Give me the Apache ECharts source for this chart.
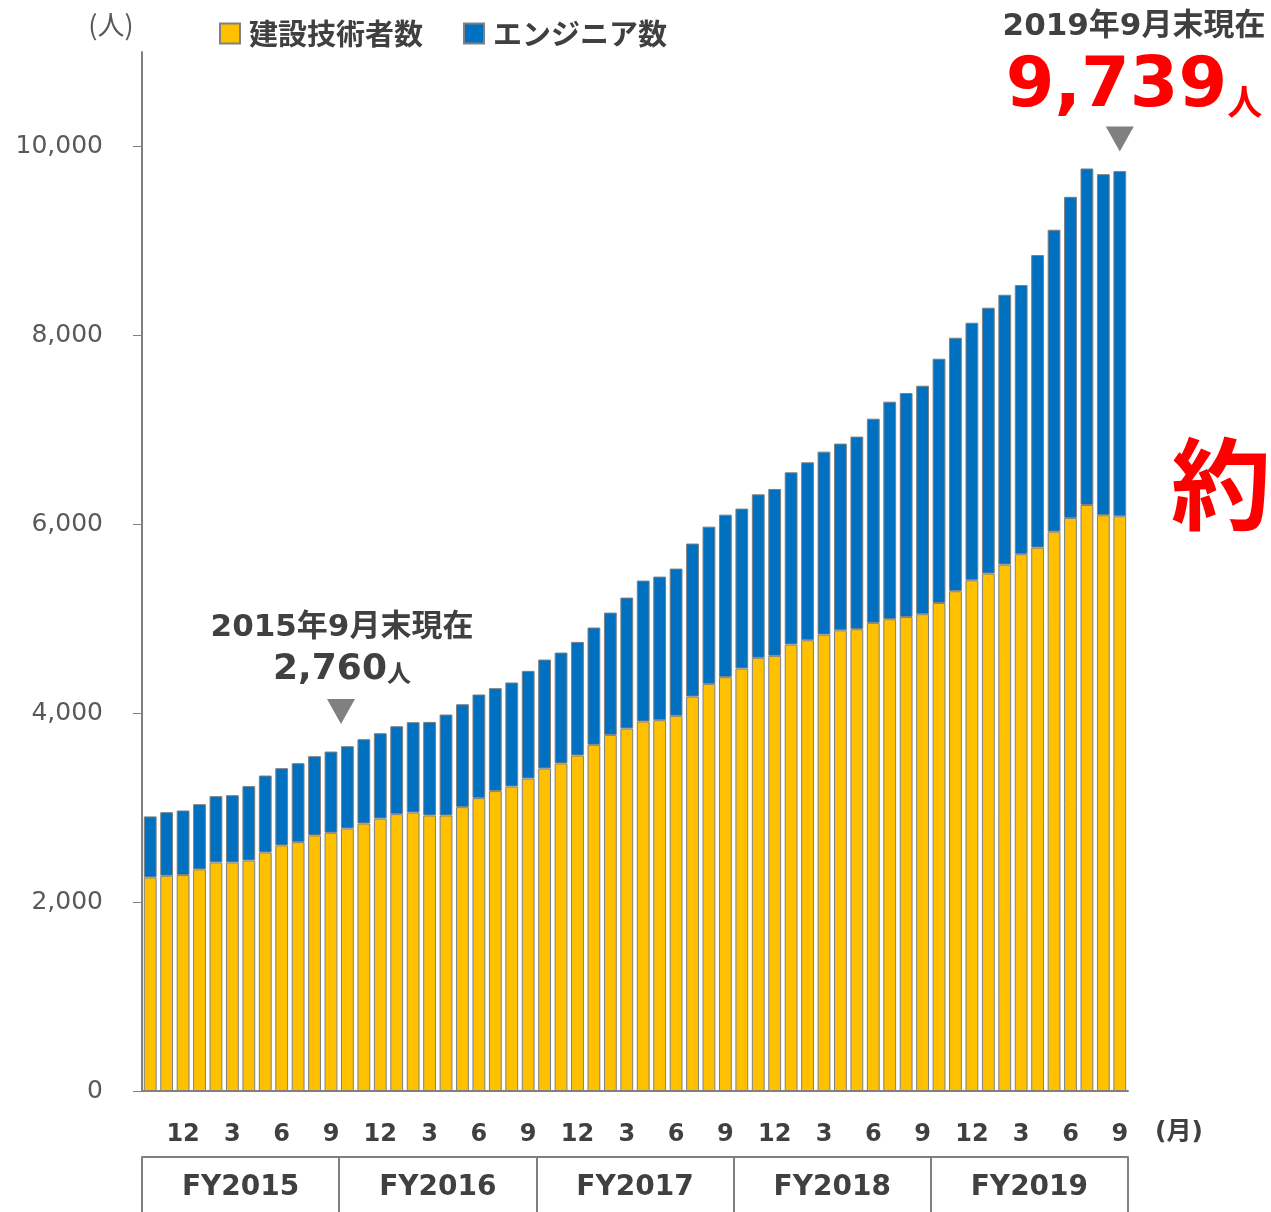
<!DOCTYPE html>
<html>
<head>
<meta charset="utf-8">
<script src="https://cdn.jsdelivr.net/npm/echarts@6/dist/echarts.min.js"></script>
<style>
  html, body { margin: 0; padding: 0; background: #fff; }
  #chart { width: 1271px; height: 1212px; }
</style>
</head>
<body>
<div id="chart"></div>
<script>
// 年度（10月始まり）と月
const fiscalYears = ['FY2015', 'FY2016', 'FY2017', 'FY2018', 'FY2019'];
const fyMonths = [10, 11, 12, 1, 2, 3, 4, 5, 6, 7, 8, 9];

// 建設技術者数（黄）
const construction = [
  2261, 2279, 2286, 2346, 2420, 2420, 2441, 2526, 2600, 2635, 2706, 2734,
  2780, 2832, 2885, 2931, 2949, 2917, 2917, 3005, 3101, 3175, 3224, 3309,
  3415, 3468, 3552, 3665, 3770, 3838, 3912, 3926, 3972, 4176, 4310, 4381,
  4473, 4586, 4607, 4727, 4772, 4832, 4878, 4889, 4956, 4995, 5019, 5048,
  5167, 5291, 5407, 5478, 5573, 5683, 5753, 5922, 6067, 6204, 6095, 6085
];
// 合計（建設技術者数＋エンジニア数）
const totals = [
  2907, 2952, 2970, 3037, 3122, 3132, 3228, 3340, 3418, 3471, 3545, 3594,
  3651, 3725, 3788, 3862, 3905, 3908, 3986, 4095, 4198, 4265, 4325, 4448,
  4568, 4642, 4755, 4907, 5065, 5224, 5404, 5446, 5531, 5796, 5975, 6102,
  6166, 6317, 6374, 6550, 6656, 6769, 6854, 6928, 7118, 7298, 7390, 7467,
  7753, 7975, 8134, 8293, 8430, 8533, 8850, 9118, 9467, 9767, 9707, 9739
];
const yTicks = [0, 2000, 4000, 6000, 8000, 10000];

// カテゴリ（例: 2014/10）
let categories = [];
fiscalYears.forEach(fy =>
{
  let y = parseInt(fy.slice(2), 10);
  fyMonths.forEach(m =>
  {
    categories.push((m >= 10 ? y - 1 : y) + '/' + m);
  });
});
// エンジニア数 = 合計 - 建設技術者数
const engineers = totals.map((t, i) => t - construction[i]);

const FONT = "'DejaVu Sans', 'Noto Sans CJK JP', sans-serif";
const GRAY = '#808080';
const TEXT = '#404040';
const RED = '#FF0000';

let chart = echarts.init(document.getElementById('chart'));
let option = {
  animation: false,
  legend: {
    left: 214,
    top: 14,
    itemWidth: 20,
    itemHeight: 20,
    itemGap: 40,
    icon: 'rect',
    textStyle: {
      fontFamily: 'Noto Sans CJK JP',
      fontSize: 29,
      fontWeight: 'bold',
      color: TEXT,
      padding: [0, 0, 0, 4]
    },
    data: ['建設技術者数', 'エンジニア数']
  },
  grid: {
    left: 142,
    right: 143,
    top: 52,
    bottom: 121
  },
  xAxis: [
    {
      type: 'category',
      data: categories,
      axisLine: { lineStyle: { color: GRAY, width: 2 } },
      axisTick: { inside: true, length: 5, interval: 0, lineStyle: { color: GRAY } },
      axisLabel: {
        interval: (i) => i % 3 === 2,
        formatter: (v) => v.split('/')[1],
        color: TEXT,
        fontFamily: FONT,
        fontSize: 24,
        fontWeight: 'bold',
        margin: 32
      }
    },
    {
      type: 'category',
      data: fiscalYears,
      position: 'bottom',
      offset: 66,
      axisLine: { lineStyle: { color: GRAY, width: 2 } },
      axisTick: { show: true, length: 60, interval: 0, lineStyle: { color: GRAY, width: 2 } },
      axisLabel: {
        color: TEXT,
        fontFamily: FONT,
        fontSize: 28,
        fontWeight: 'bold',
        margin: 17
      }
    }
  ],
  yAxis: {
    type: 'value',
    min: 0,
    max: 11000,
    interval: 2000,
    splitLine: { show: false },
    axisLine: { show: true, lineStyle: { color: GRAY, width: 2 } },
    axisTick: { show: true, length: 9, customValues: yTicks, lineStyle: { color: GRAY } },
    axisLabel: {
      customValues: yTicks,
      formatter: (v) => v.toLocaleString('en-US'),
      color: '#595959',
      fontFamily: FONT,
      fontSize: 25,
      margin: 39
    }
  },
  series: [
    {
      name: '建設技術者数',
      type: 'bar',
      stack: 'total',
      barCategoryGap: '22%',
      data: construction,
      itemStyle: { color: '#FFC000', borderColor: GRAY, borderWidth: 1 }
    },
    {
      name: 'エンジニア数',
      type: 'bar',
      stack: 'total',
      data: engineers,
      itemStyle: { color: '#0070C0', borderColor: GRAY, borderWidth: 1 },
      markPoint: {
        symbol: 'triangle',
        symbolRotate: 180,
        symbolSize: [28, 25],
        itemStyle: { color: GRAY },
        label: { show: false },
        data: [
          { coord: [11, totals[11]], symbolOffset: [10, -40] },
          { coord: [59, totals[59]], symbolOffset: [0, -32] }
        ]
      }
    }
  ],
  graphic: [
    {
      type: 'text',
      style: { text: '(人)', x: 111, y: 25, align: 'center', verticalAlign: 'middle',
        fontFamily: 'Noto Sans CJK JP', fontSize: 27, fill: '#595959' }
    },
    {
      type: 'text',
      style: { text: '(月)', x: 1179, y: 1132, align: 'center', verticalAlign: 'middle',
        fontFamily: FONT, fontSize: 25, fontWeight: 'bold', fill: TEXT }
    },
    {
      type: 'text',
      style: { text: '2015年9月末現在', x: 342, y: 628, align: 'center', verticalAlign: 'middle',
        fontFamily: FONT, fontSize: 31, fontWeight: 'bold', fill: TEXT }
    },
    {
      type: 'text',
      style: {
        text: '{a|2,760}{b|人}', x: 342, y: 668, align: 'center', verticalAlign: 'middle',
        rich: {
          a: { fontFamily: FONT, fontSize: 36, fontWeight: 'bold', fill: TEXT, verticalAlign: 'bottom', lineHeight: 40 },
          b: { fontFamily: FONT, fontSize: 24, fontWeight: 'bold', fill: TEXT, verticalAlign: 'bottom', lineHeight: 36 }
        }
      }
    },
    {
      type: 'text',
      style: { text: '2019年9月末現在', x: 1134, y: 27, align: 'center', verticalAlign: 'middle',
        fontFamily: FONT, fontSize: 31, fontWeight: 'bold', fill: TEXT }
    },
    {
      type: 'text',
      style: {
        text: '{a|9,739}{b|人}', x: 1134, y: 85, align: 'center', verticalAlign: 'middle',
        rich: {
          a: { fontFamily: FONT, fontSize: 70, fontWeight: 'bold', fill: RED, verticalAlign: 'bottom', lineHeight: 76 },
          b: { fontFamily: FONT, fontSize: 35, fontWeight: 'bold', fill: RED, verticalAlign: 'bottom', lineHeight: 54 }
        }
      }
    },
    {
      type: 'text',
      style: { text: '約', x: 1221, y: 484, align: 'center', verticalAlign: 'middle',
        fontFamily: 'Noto Sans CJK JP', fontSize: 100, fontWeight: 'bold', fill: RED }
    }
  ]
};
chart.setOption(option);
</script>
</body>
</html>
